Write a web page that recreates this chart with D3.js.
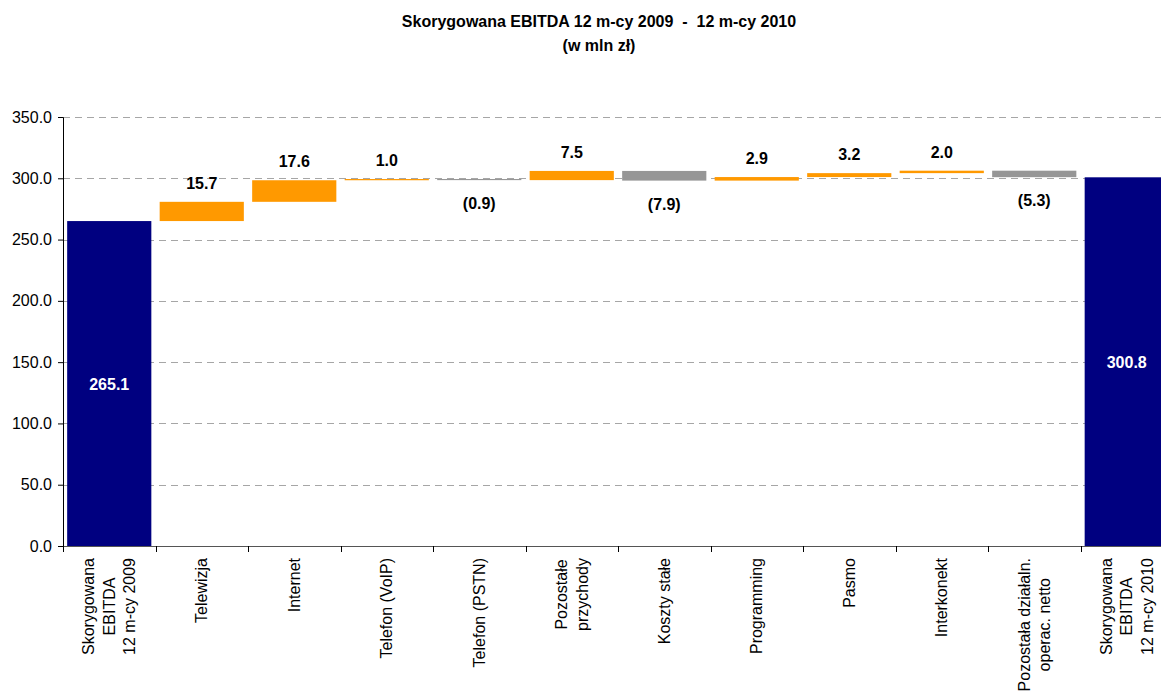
<!DOCTYPE html>
<html>
<head>
<meta charset="utf-8">
<script src="https://cdn.jsdelivr.net/npm/d3@7"></script>
<style>
  html, body { margin: 0; padding: 0; background: #fff; }
  svg { display: block; font-family: "Liberation Sans", Arial, sans-serif; }
  .title { white-space: pre; }
</style>
</head>
<body>
<svg id="chart" width="1161" height="697"></svg>
<script>
// ---- data ----
const titleLines = ["Skorygowana EBITDA 12 m-cy 2009  -  12 m-cy 2010", "(w mln zł)"];
const categories = [
  ["Skorygowana", "EBITDA", "12 m-cy 2009"],
  ["Telewizja"],
  ["Internet"],
  ["Telefon (VoIP)"],
  ["Telefon (PSTN)"],
  ["Pozostałe", "przychody"],
  ["Koszty stałe"],
  ["Programming"],
  ["Pasmo"],
  ["Interkonekt"],
  ["Pozostała działaln.", "operac. netto"],
  ["Skorygowana", "EBITDA", "12 m-cy 2010"]
];
const values = [265.1, 15.7, 17.6, 1.0, -0.9, 7.5, -7.9, 2.9, 3.2, 2.0, -5.3, 300.8];
const kinds = ["total", "delta", "delta", "delta", "delta", "delta", "delta", "delta", "delta", "delta", "delta", "total"];
const yTicks = [0, 50, 100, 150, 200, 250, 300, 350];

(function () {
// ---- build waterfall ----
let running = 0;
const bars = values.map((v, i) => {
  let lo, hi;
  if (kinds[i] === "total") { lo = 0; hi = v; running = v; }
  else { const s = running; running = s + v; lo = Math.min(s, running); hi = Math.max(s, running); }
  return { i, v, kind: kinds[i], lo, hi };
});

const svg = d3.select("#chart");
const pL = 63, pR = 1173, pT = 117, pB = 546;

const x = d3.scaleBand().domain(d3.range(categories.length)).range([pL, pR])
  .paddingInner(0.09).paddingOuter(0.045);
const y = d3.scaleLinear().domain([0, 350]).range([pB, pT]);

// title
svg.append("g").selectAll("text").data(titleLines).join("text")
  .attr("class", "title")
  .attr("x", 599).attr("y", (d, i) => 27 + i * 24)
  .attr("text-anchor", "middle").attr("font-size", "16px").attr("font-weight", "bold")
  .attr("fill", "#000").text(d => d);

// gridlines
svg.append("g").selectAll("line").data(yTicks.filter(t => t > 0)).join("line")
  .attr("x1", pL).attr("x2", 1161).attr("y1", d => Math.round(y(d)) + 0.5).attr("y2", d => Math.round(y(d)) + 0.5)
  .attr("stroke", "#a6a6a6").attr("stroke-width", 1).attr("stroke-dasharray", "7,5");

const colors = { total: "#000080", inc: "#FF9900", dec: "#969696" };

// bars
svg.append("g").selectAll("rect").data(bars).join("rect")
  .attr("x", d => x(d.i)).attr("width", x.bandwidth())
  .attr("y", d => y(d.hi)).attr("height", d => Math.max(1, y(d.lo) - y(d.hi)))
  .attr("fill", d => d.kind === "total" ? colors.total : (d.v >= 0 ? colors.inc : colors.dec));

const fmt = d3.format(".1f");
// value labels
svg.append("g").selectAll("text").data(bars).join("text")
  .attr("x", d => x(d.i) + x.bandwidth() / 2)
  .attr("y", d => d.kind === "total" ? (y(d.hi) + y(d.lo)) / 2 + 6
                : (d.v >= 0 ? y(d.hi) - 13 : y(d.lo) + 29))
  .attr("text-anchor", "middle").attr("font-size", "16px").attr("font-weight", "bold")
  .attr("fill", d => d.kind === "total" ? "#fff" : "#000")
  .text(d => d.v < 0 ? "(" + fmt(-d.v) + ")" : fmt(d.v));

// y axis
const yAxis = svg.append("g").attr("transform", `translate(${pL},0)`)
  .call(d3.axisLeft(y).tickValues(yTicks).tickFormat(d3.format(".1f")).tickSize(5).tickPadding(6));
yAxis.select(".domain").attr("stroke", "#000");
yAxis.selectAll(".tick line").attr("stroke", "#000");
yAxis.selectAll("text").attr("font-size", "16px").attr("font-family", "Liberation Sans, Arial, sans-serif").attr("fill", "#000");

// x axis line and ticks at category boundaries
const step = x.step();
const boundaries = d3.range(categories.length + 1).map(k => x(0) - x.paddingOuter() * step + k * step);
svg.append("line").attr("x1", pL).attr("x2", 1161).attr("y1", pB + 0.5).attr("y2", pB + 0.5)
  .attr("stroke", "#555");
svg.append("g").selectAll("line").data(boundaries).join("line")
  .attr("x1", d => Math.round(d) + 0.5).attr("x2", d => Math.round(d) + 0.5)
  .attr("y1", pB).attr("y2", pB + 6).attr("stroke", "#000");

// x labels (rotated, block top-aligned, lines centred)
const lineH = 20.5;
const xl = svg.append("g");
categories.forEach((lines, i) => {
  const cx = x(i) + x.bandwidth() / 2;
  const g = xl.append("g").attr("transform", `translate(${cx},${pB + 12}) rotate(-90)`);
  const texts = lines.map((t, j) => g.append("text")
    .attr("font-size", "16px").attr("fill", "#000").attr("text-anchor", "middle").text(t));
  const maxW = d3.max(texts, t => t.node().getComputedTextLength());
  const n = lines.length;
  texts.forEach((t, j) => {
    t.attr("x", -maxW / 2).attr("y", (j - (n - 1) / 2) * lineH + 5.5);
  });
});
})();
</script>
</body>
</html>
